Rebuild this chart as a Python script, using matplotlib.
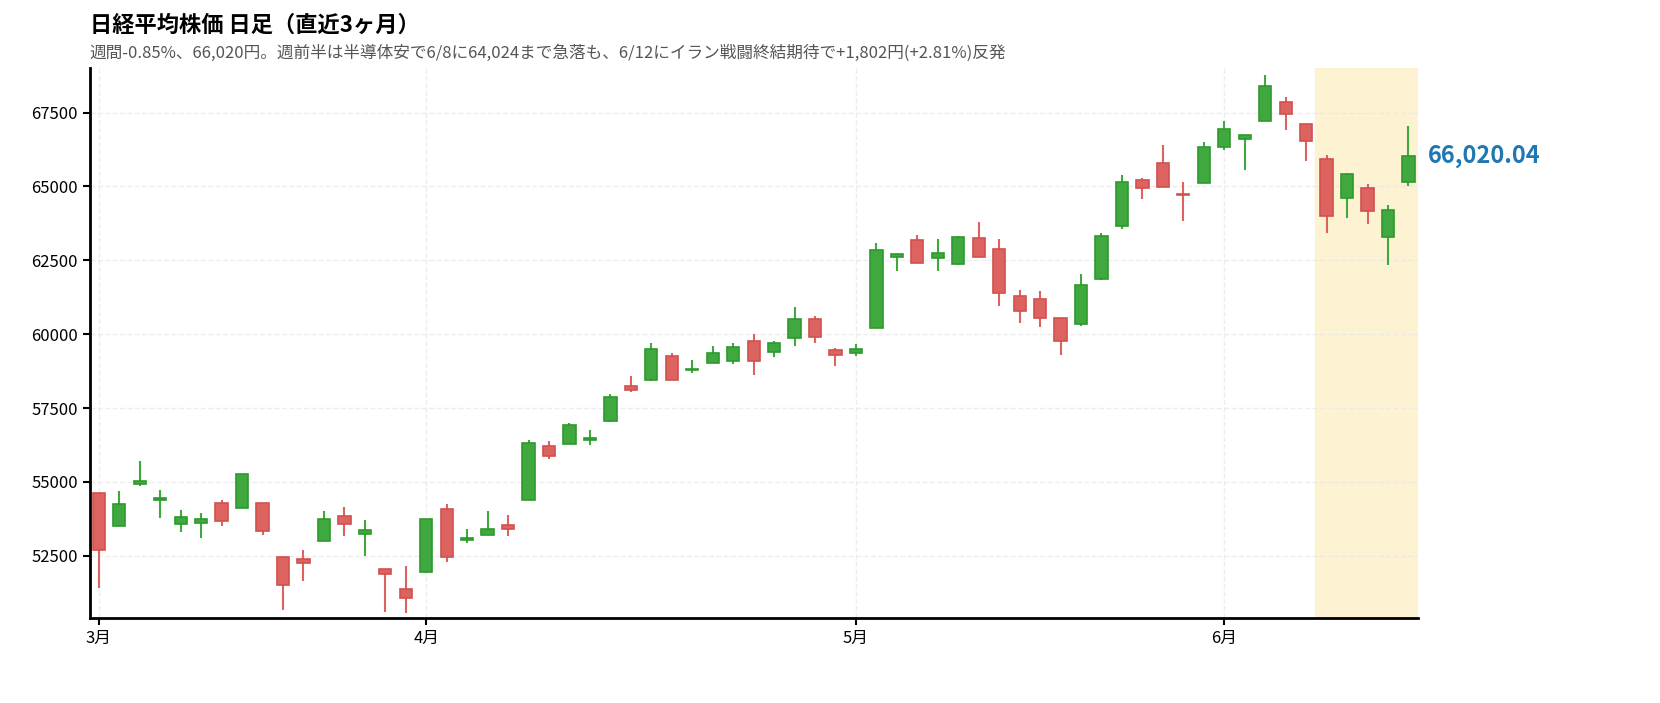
import matplotlib
matplotlib.use("Agg")
import matplotlib.pyplot as plt
import numpy as np

plt.rcParams['font.family'] = ['Noto Sans CJK JP', 'DejaVu Sans']

# OHLC (読み取り値)
opens = [54616, 53509, 54929, 54387, 53593, 53617, 54303, 54123, 54303, 52475,
         52390, 53016, 53846, 53232, 52053, 51380, 51957, 54075, 53040, 53208,
         53557, 54387, 56216, 56276, 56408, 57058, 58261, 58466, 59247, 58790,
         59019, 59079, 59777, 59404, 59885, 60523, 59464, 59368, 60222, 62628,
         63181, 62592, 62363, 63241, 62868, 61293, 61196, 60559, 60354, 61870,
         63650, 65226, 65780, 64745, 65118, 66333, 66598, 67223, 67849, 67115,
         65936, 64601, 64950, 63290, 65154]
highs = [54616, 54700, 55722, 54736, 54063, 53966, 54387, 55280, 54303, 52475,
         52691, 54015, 54159, 53714, 52053, 52162, 53750, 54243, 53413, 54015,
         53894, 56420, 56384, 56998, 56745, 57960, 58574, 59693, 59368, 59139,
         59596, 59693, 60005, 59753, 60908, 60607, 59548, 59680, 63073, 62710,
         63362, 63205, 63338, 63783, 63205, 61485, 61449, 60559, 62026, 63434,
         65383, 65286, 66405, 65154, 66502, 67199, 66740, 68775, 68029, 67115,
         66068, 65467, 65094, 64384, 67043]
lows = [51416, 53509, 54869, 53786, 53305, 53112, 53497, 54110, 53208, 50670,
        51645, 53016, 53184, 52511, 50586, 50574, 51909, 52294, 52932, 53208,
        53160, 54387, 55771, 56276, 56264, 57022, 58044, 58418, 58466, 58682,
        59019, 58995, 58610, 59223, 59608, 59717, 58935, 59260, 60222, 62123,
        62399, 62147, 62327, 62628, 60944, 60378, 60246, 59284, 60294, 61846,
        63566, 64589, 64986, 63843, 65118, 66225, 65551, 67223, 66923, 65876,
        63410, 63927, 63735, 62327, 65022]
closes = [52715, 54267, 55037, 54460, 53810, 53750, 53666, 55266, 53353, 51500,
          52246, 53750, 53581, 53365, 51897, 51067, 53750, 52463, 53112, 53401,
          53425, 56312, 55879, 56926, 56504, 57888, 58128, 59512, 58466, 58838,
          59356, 59572, 59103, 59705, 60523, 59909, 59284, 59500, 62832, 62700,
          62399, 62748, 63278, 62628, 61377, 60799, 60547, 59777, 61677, 63338,
          65166, 64962, 64986, 64697, 66321, 66935, 66730, 68402, 67464, 66550,
          64000, 65431, 64156, 64204, 66020.04]

month_pos = [0, 16, 37, 55]
month_labels = ["3月", "4月", "5月", "6月"]
week_first = 60   # 直近1週間の最初のローソク

x = np.arange(len(opens))
o = np.array(opens); c = np.array(closes)
up = c >= o
face = np.where(up, "#3fa93f", "#dd6361")
edge = np.where(up, "#2e9a2e", "#d2504e")

fig = plt.figure(figsize=(16.6, 7.03), dpi=100)
ax = fig.add_axes([0.054, 0.121, 0.80, 0.782])

xmax = len(opens) - 1 + 0.45
ax.axvspan(week_first - 0.55, xmax, color="#fdf0c8", alpha=0.8, zorder=0)
ax.vlines(x, lows, highs, colors=face, linewidth=1.5, zorder=2)
ax.bar(x, np.maximum(np.abs(c - o), 30), bottom=np.minimum(o, c), width=0.6,
       color=face, edgecolor=edge, linewidth=1.2, zorder=3)

ax.text(xmax + 0.5, closes[-1], f"{closes[-1]:,.2f}", color="#1f77b4",
        fontsize=17, fontweight="bold", va="center", ha="left", clip_on=False)

ax.set_xlim(-0.45, xmax)
ax.set_ylim(50400, 69000)
ax.set_yticks(np.arange(52500, 67501, 2500))
ax.set_xticks(month_pos)
ax.set_xticklabels(month_labels)
ax.tick_params(labelsize=12, width=1.5, length=5)
ax.grid(True, linestyle="--", color="#e6e6e6", linewidth=1, alpha=0.7)
for s in ["top", "right"]:
    ax.spines[s].set_visible(False)
for s in ["left", "bottom"]:
    ax.spines[s].set_linewidth(2)

fig.text(0.054, 0.955, "日経平均株価 日足（直近3ヶ月）", fontsize=16, fontweight="bold")
fig.text(0.054, 0.918, "週間-0.85%、66,020円。週前半は半導体安で6/8に64,024まで急落も、6/12にイラン戦闘終結期待で+1,802円(+2.81%)反発",
         fontsize=12, color="#555555")

fig.savefig("out.png", dpi=100)
